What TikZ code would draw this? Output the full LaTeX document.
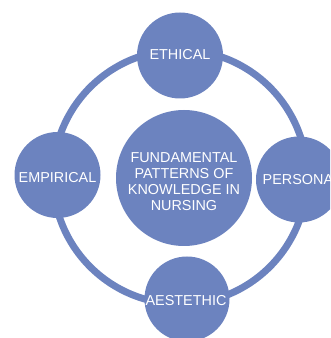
\documentclass[tikz,border=0pt]{standalone}
\usepackage{fontspec}
\setmainfont{Liberation Sans}
\definecolor{nodeblue}{RGB}{108,131,191}
\begin{document}
\begin{tikzpicture}[x=1pt,y=1pt,
  ring/.style={draw=nodeblue, line width=7pt},
  bubble/.style={circle, fill=nodeblue, inner sep=0pt},
  lbl/.style={text=white, inner sep=0pt, align=center,
    font=\fontsize{14.4}{16.2}\selectfont}]
\useasboundingbox (0,0) rectangle (330,338);
\clip (0,0) rectangle (330,338);
\coordinate (ringc) at (180,161);
\draw[ring] (ringc) circle[radius=127];
\node[bubble, minimum size=136pt] (core) at (184,160) {};
\node[bubble, minimum size=86pt] (eth) at (180,282.5) {};
\node[bubble, minimum size=86pt] (emp) at (57.5,163) {};
\node[bubble, minimum size=86pt] (per) at (299,158.5) {};
\node[bubble, minimum size=85pt] (aes) at (187,39) {};
\node[lbl] (corelbl) at ([yshift=-3.5pt]core.center)
  {FUNDAMENTAL\\PATTERNS OF\\KNOWLEDGE IN\\NURSING};
\node[lbl] (ethlbl) at ([yshift=1pt]eth.center) {ETHICAL};
\node[lbl] (emplbl) at ([yshift=-2.5pt]emp.center) {EMPIRICAL};
\node[lbl, anchor=west] (perlbl) at ([xshift=-36.5pt]per.center) {PERSONA};
\node[lbl] (aeslbl) at ([xshift=-1pt,yshift=-2pt]aes.center) {AESTETHIC};
\end{tikzpicture}
\end{document}
